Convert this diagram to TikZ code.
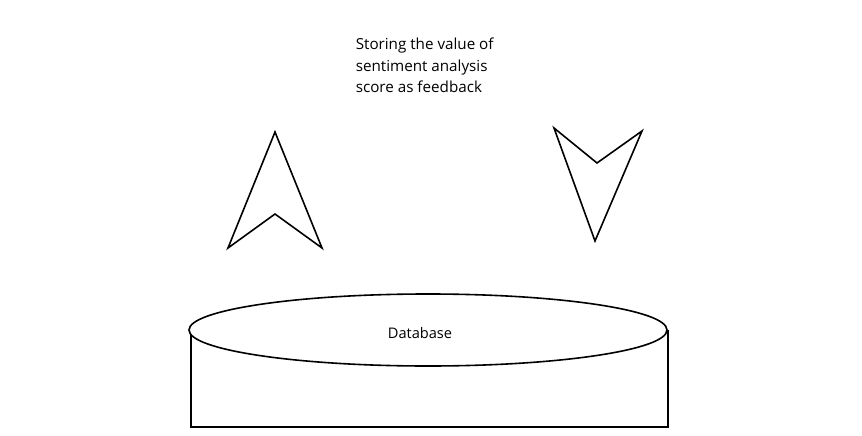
\documentclass[tikz,border=0pt]{standalone}
\usepackage{fontspec}
\setmainfont{Open Sans}

\begin{document}
\begin{tikzpicture}[x=1pt,y=-1pt,line width=1.6pt,line join=miter,
    caption/.style={inner sep=0pt,align=left,font=\fontsize{15.2}{21.6}\selectfont},
    label/.style={inner sep=0pt,font=\fontsize{14.6}{17}\selectfont}]
  \useasboundingbox (0,0) rectangle (862,436);
  \node[caption,anchor=north west] (feedback) at (355,37) {Storing the value of\\sentiment analysis\\score as feedback};
  \draw (275,132) -- (322,248) -- (275,214) -- (228,248) -- cycle;
  \draw (554,128) -- (597,163) -- (642,131) -- (595,241) -- cycle;
  \draw (191,330) -- (191,427) -| (668,330);
  \draw[fill=white] (428,330) ellipse [x radius=239,y radius=36];
  \node[label] (db) at (420,333) {Database};
\end{tikzpicture}
\end{document}
